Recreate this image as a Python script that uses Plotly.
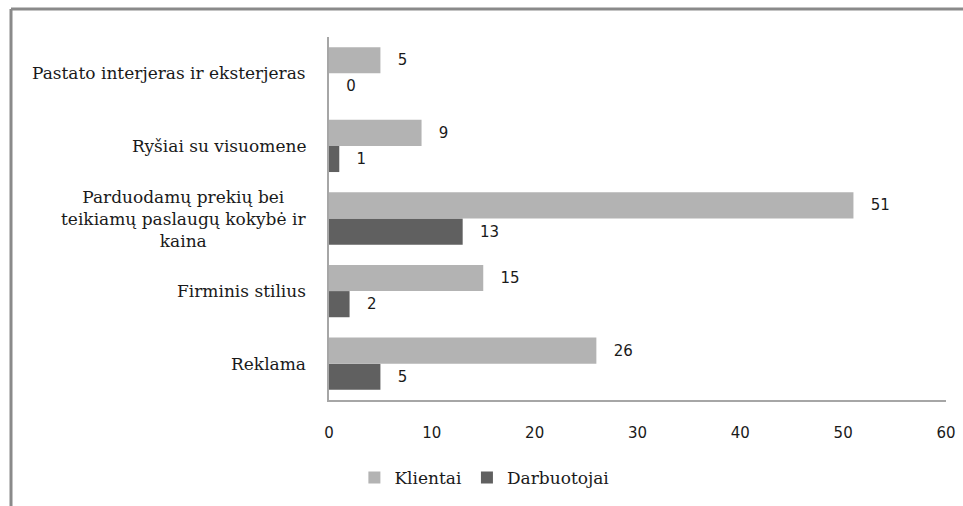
import plotly.graph_objects as go

# Survey results: image-building factors named by customers and employees
categories = [
    "Reklama",
    "Firminis stilius",
    "Parduodamų prekių bei<br>teikiamų paslaugų kokybė ir<br>kaina",
    "Ryšiai su visuomene",
    "Pastato interjeras ir eksterjeras",
]
klientai = [26, 15, 51, 9, 5]
darbuotojai = [5, 2, 13, 1, 0]
x_ticks = [0, 10, 20, 30, 40, 50, 60]

W, H = 963, 506
M_L, M_R, M_T, M_B = 329, 17, 37, 106

LIGHT = "#b3b3b3"
DARK = "#606060"
AXIS = "#a6a6a6"
SERIF = "DejaVu Serif"
SANS = "DejaVu Sans"
PAD = "\u00a0\u00a0\u00a0"

fig = go.Figure()

# Darbuotojai is added first so it sits below Klientai inside each group
fig.add_trace(go.Bar(
    name="Darbuotojai", y=categories, x=darbuotojai, orientation="h",
    marker=dict(color=DARK, line=dict(width=0)),
    text=darbuotojai, texttemplate=PAD + "%{x}", textposition="outside",
    textfont=dict(family=SANS, size=15, color="#1a1a1a"),
    constraintext="none", cliponaxis=False, legendrank=2,
))
fig.add_trace(go.Bar(
    name="Klientai", y=categories, x=klientai, orientation="h",
    marker=dict(color=LIGHT, line=dict(width=0)),
    text=klientai, texttemplate=PAD + "%{x}", textposition="outside",
    textfont=dict(family=SANS, size=15, color="#1a1a1a"),
    constraintext="none", cliponaxis=False, legendrank=1,
))

# Category labels, centred line by line beside the value axis
annotations = [
    dict(text=c, x=0, xref="paper", y=c, yref="y", xanchor="right",
         xshift=-21, align="center", showarrow=False,
         font=dict(family=SERIF, size=17, color="#1a1a1a"))
    for c in categories
]

# Outer frame: top edge and left edge of the chart area
pw = W - M_L - M_R
ph = H - M_T - M_B
x_left = (11 - M_L) / pw
y_top = (H - M_B - 9) / ph
y_bottom = (H - M_B - H - 5) / ph
shapes = [
    dict(type="line", xref="paper", yref="paper", x0=x_left, x1=(W + 5 - M_L) / pw,
         y0=y_top, y1=y_top, line=dict(color="#8a8a8a", width=3)),
    dict(type="line", xref="paper", yref="paper", x0=x_left, x1=x_left,
         y0=y_top, y1=y_bottom, line=dict(color="#8a8a8a", width=3)),
]

fig.update_layout(
    width=W, height=H,
    margin=dict(l=M_L, r=M_R, t=M_T, b=M_B, autoexpand=False),
    paper_bgcolor="white", plot_bgcolor="white",
    barmode="group", bargap=0.28, bargroupgap=0,
    annotations=annotations, shapes=shapes,
    legend=dict(
        orientation="h", xref="container", x=0.503, xanchor="center",
        yref="container", y=1 - 478 / H, yanchor="middle",
        font=dict(family=SERIF, size=17, color="#1a1a1a"),
        traceorder="normal", itemwidth=30,
    ),
    xaxis=dict(
        range=[0, 60], tickvals=x_ticks, showgrid=False, zeroline=False,
        showline=True, linecolor=AXIS, linewidth=1.5,
        ticks="outside", ticklen=18, tickcolor="rgba(0,0,0,0)",
        tickfont=dict(family=SANS, size=15, color="#1a1a1a"),
    ),
    yaxis=dict(
        categoryorder="array", categoryarray=categories,
        showticklabels=False, showgrid=False, zeroline=False,
        showline=True, linecolor=AXIS, linewidth=1.5, ticks="",
    ),
    showlegend=True,
)

fig.write_html("out.html")
